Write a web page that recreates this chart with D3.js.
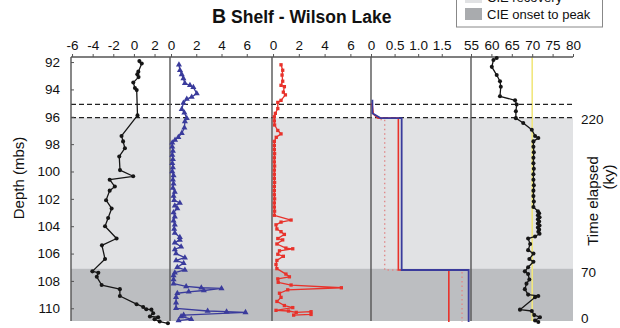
<!DOCTYPE html>
<html>
<head>
<meta charset="utf-8">
<script src="https://cdn.jsdelivr.net/npm/d3@7"></script>
<style>
  body { margin: 0; background: #fff; }
  svg { display: block; font-family: "Liberation Sans", Arial, Helvetica, sans-serif; }
</style>
</head>
<body>
<svg id="chart" width="620" height="328"></svg>
<script>
// ---- depth axis and horizons (m below surface) ----
const depthTicks = [92, 94, 96, 98, 100, 102, 104, 106, 108, 110];
const depthDomain = [91.63, 110.93];
const dashedDepths = [95.1, 96.06];
const recoveryZone = [96.06, 107.1];
const onsetZone = [107.1, 110.93];

// elapsed-time tie points (ky) and their depths
const timeLabels = ["220", "70", "0"];
const timeDepths = [96.06, 107.1, 110.93];

// ---- top-axis tick values per panel ----
const ticks1 = [-6, -4, -2, 0, 2];
const ticks2 = [0, 2, 4, 6];
const ticks3 = [0, 2, 4, 6];
const ticks4 = [0, 0.5, 1.0, 1.5];
const ticks5 = [55, 60, 65, 70, 75, 80];

// ---- panel 1: black circles ----
const p1Depth = [91.93, 92.1, 92.7, 92.9, 93.1, 93.5, 93.9, 94.05, 95.9, 97.4, 97.8, 98.3, 98.9, 99.9,
  100.35, 100.6, 101.1, 101.4, 102.1, 102.7, 103.4, 104.0, 104.9, 105.4, 106.4, 107.3, 107.4, 107.7,
  108.3, 108.6, 109.1, 109.7, 109.9, 110.07, 110.1, 110.36, 110.6, 110.65, 110.8, 110.97, 111.1];
const p1Value = [0.53, 0.76, 0.43, 0.33, 0.45, -0.06, 0.1, 0.27, 0.35, -1.2, -1.05, -0.87, -1.42, -1.35,
  -0.07, -2.35, -1.85, -2.35, -2.7, -2.16, -2.5, -2.8, -1.68, -3.1, -2.8, -4.03, -3.45, -3.6,
  -3.13, -1.36, -1.36, 0.26, 0.9, 1.2, 1.7, 1.87, 1.55, 2.35, 2.0, 2.5, 3.3];

// ---- panel 2: blue triangles ----
const p2Depth = [92.2, 92.6, 92.9, 93.2, 93.55, 93.7, 93.85, 94.3, 94.55, 94.7, 95.0, 95.45, 95.7, 96.1,
  96.35, 96.8, 97.2, 97.5, 97.7, 97.9, 98.2, 98.5, 98.8, 99.1, 99.4, 99.7, 100.0, 100.3, 100.6, 100.9,
  101.2, 101.5, 101.8, 102.1, 102.3, 102.5, 102.7, 103.0, 103.3, 103.6, 103.9, 104.2, 104.5, 104.8,
  105.0, 105.2, 105.5, 105.7, 106.0, 106.3, 106.5, 106.7, 107.0, 107.2, 107.4, 107.6, 107.9, 108.2,
  108.4, 108.5, 108.55, 108.7, 108.8, 108.9, 109.2, 109.6, 110.0, 110.2, 110.25, 110.3, 110.5, 110.6,
  110.8, 110.9];
const p2Value = [0.63, 0.71, 0.85, 0.98, 1.1, 1.5, 1.77, 2.04, 1.64, 1.25, 0.98, 0.85, 1.06, 1.25,
  1.1, 1.06, 0.85, 0.58, 0.32, 0.1, 0.1, 0.15, 0.1, 0.15, 0.1, 0.15, 0.1, 0.2, 0.15, 0.2,
  0.15, 0.3, 0.2, 0.25, 0.7, 0.3, 0.5, 0.2, 0.3, 0.2, 0.3, 0.25, 0.3, 0.7,
  0.7, 0.3, 0.8, 0.3, 0.4, 1.1, 0.4, 1.0, 0.5, 1.1, 0.3, 0.2, 0.2, 0.2,
  1.2, 2.4, 4.0, 2.6, 1.4, 0.5, 0.4, 0.4, 0.4, 2.9, 4.4, 5.9, 1.0, 0.8,
  1.6, 0.6];

// ---- panel 3: red squares ----
const p3Depth = [92.2, 92.6, 92.95, 93.4, 93.7, 93.8, 94.2, 94.4, 94.8, 94.95, 95.4, 95.75, 96.0, 96.3,
  96.6, 97.0, 97.25, 97.5, 97.8, 98.1, 98.4, 98.7, 99.0, 99.3, 99.6, 99.9, 100.2, 100.5, 100.8, 101.1,
  101.4, 101.7, 102.0, 102.3, 102.6, 102.9, 103.2, 103.55, 103.7, 103.9, 104.2, 104.4, 104.6, 104.9,
  105.0, 105.3, 105.6, 105.65, 105.8, 106.05, 106.2, 106.5, 106.8, 107.1, 107.5, 107.7, 107.85, 108.1,
  108.3, 108.5, 108.65, 108.9, 109.2, 109.5, 109.8, 109.95, 110.15, 110.2, 110.3, 110.25, 110.45, 110.5];
const p3Value = [0.62, 0.75, 0.7, 0.75, 0.62, 0.88, 0.8, 0.96, 0.62, 0.37, 0.37, 0.18, 0.1, 0.1,
  0.12, 0.37, 0.62, 0.25, 0.1, 0.1, 0.1, 0.12, 0.1, 0.1, 0.12, 0.1, 0.1, 0.1, 0.12, 0.1,
  0.1, 0.1, 0.12, 0.1, 0.1, 0.12, 0.1, 1.4, 0.62, 0.23, 0.3, 0.62, 0.88, 0.37,
  0.75, 0.3, 1.0, 1.53, 0.5, 0.37, 0.8, 0.3, 0.23, 0.3, 1.0, 1.27, 0.37, 0.4,
  1.4, 5.3, 1.14, 0.5, 0.62, 0.3, 0.88, 1.53, 0.23, 1.2, 1.8, 2.95, 2.95, 1.6];

// ---- panel 4: step curves ----
const p4BlueDepth = [94.75, 95.75, 96.1, 96.1, 107.2, 107.2, 111.0];
const p4BlueValue = [0.03, 0.03, 0.2, 0.65, 0.65, 2.07, 2.07];
const p4RedDepth = [95.0, 95.8, 96.1, 96.1, 107.2, 107.2, 111.0];
const p4RedValue = [0.02, 0.05, 0.15, 0.58, 0.58, 1.65, 1.65];
const p4DotDepth = [96.2, 96.2, 107.2, 107.2, 111.0];
const p4DotValue = [0.2, 0.29, 0.29, 1.93, 1.93];

// ---- panel 5: black circles and reference value ----
const p5Depth = [91.7, 91.85, 92.35, 92.95, 93.4, 93.8, 94.5, 94.8, 95.1, 95.6, 96.1, 96.45, 96.95, 97.4,
  97.55, 97.8, 98.2, 98.6, 99.0, 99.4, 99.8, 100.2, 100.6, 101.0, 101.4, 101.8, 102.2, 102.6,
  102.9, 103.05, 103.2, 103.35, 103.5, 103.65, 103.8, 103.95, 104.1, 104.25, 104.4, 104.55,
  104.75, 104.9, 105.3, 105.75, 106.0, 106.4, 106.6, 107.0, 107.3, 107.5, 107.9, 108.2, 108.6,
  109.0, 109.1, 109.2, 110.1, 110.2, 110.5, 110.65, 110.9, 111.0];
const p5Value = [61.3, 60.5, 60.1, 61.3, 62.1, 62.3, 62.1, 65.8, 66.2, 66.0, 66.0, 67.8, 69.9, 70.7,
  71.5, 70.3, 70.3, 70.4, 70.3, 70.3, 70.4, 70.3, 70.3, 70.4, 70.3, 70.3, 70.4, 70.3,
  71.4, 71.7, 71.4, 71.8, 71.4, 71.7, 71.4, 71.8, 71.4, 71.7, 71.5, 71.8,
  70.7, 69.0, 69.5, 69.0, 70.3, 69.3, 70.3, 69.0, 68.2, 69.0, 69.3, 68.6, 68.2,
  69.0, 71.5, 70.7, 67.0, 69.9, 70.5, 71.9, 70.7, 71.5];
const p5Reference = [70];

// ---- legend ----
const legendLabels = ["CIE recovery", "CIE onset to peak"];

// ================= drawing =================
const svg = d3.select("#chart");
const plotTop = 57, plotBottom = 321;
const edges = [71, 170, 272, 371, 471, 573];
const lightGrey = "#e1e2e4", darkGrey = "#bcbec1";
const frameColor = "#555";

const y = d3.scaleLinear().domain(depthDomain).range([plotTop, plotBottom]);

const x1 = d3.scaleLinear().domain([-6.1, 3.5]).range([edges[0], edges[1]]);
const x2 = d3.scaleLinear().domain([-0.08, 8.0]).range([edges[1], edges[2]]);
const x3 = d3.scaleLinear().domain([-0.08, 7.6]).range([edges[2], edges[3]]);
const x4 = d3.scaleLinear().domain([0, 2.12]).range([edges[3], edges[4]]);
const x5 = d3.scaleLinear().domain([55, 80]).range([edges[4], edges[5]]);

const zip = (ds, vs) => ds.map((d, i) => ({ d, v: vs[i] }));

// shaded CIE intervals
svg.append("rect")
  .attr("x", edges[0]).attr("width", edges[5] - edges[0])
  .attr("y", y(recoveryZone[0])).attr("height", y(recoveryZone[1]) - y(recoveryZone[0]))
  .attr("fill", lightGrey);
svg.append("rect")
  .attr("x", edges[0]).attr("width", edges[5] - edges[0])
  .attr("y", y(onsetZone[0])).attr("height", y(onsetZone[1]) - y(onsetZone[0]))
  .attr("fill", darkGrey);

// yellow reference line in the last panel
svg.append("line")
  .attr("x1", x5(p5Reference[0])).attr("x2", x5(p5Reference[0]))
  .attr("y1", plotTop).attr("y2", plotBottom)
  .attr("stroke", "#f1e77e").attr("stroke-width", 1.6);

// dashed horizons
svg.selectAll("line.horizon").data(dashedDepths).join("line")
  .attr("class", "horizon")
  .attr("x1", edges[0]).attr("x2", edges[5])
  .attr("y1", d => y(d)).attr("y2", d => y(d))
  .attr("stroke", "#222").attr("stroke-width", 1.2)
  .attr("stroke-dasharray", "5,3");

// panel dividers
svg.selectAll("line.divider").data(edges.slice(0, 5)).join("line")
  .attr("class", "divider")
  .attr("x1", d => d).attr("x2", d => d)
  .attr("y1", plotTop).attr("y2", plotBottom)
  .attr("stroke", frameColor).attr("stroke-width", 1.4);

// top frame line
svg.append("line")
  .attr("x1", edges[0]).attr("x2", edges[5])
  .attr("y1", plotTop).attr("y2", plotTop)
  .attr("stroke", frameColor).attr("stroke-width", 1.4);

// top axes
function topAxis(scale, values, fmt) {
  const g = svg.append("g").attr("transform", `translate(0,${plotTop})`)
    .call(d3.axisTop(scale).tickValues(values).tickSize(3).tickPadding(4).tickFormat(fmt));
  g.select(".domain").remove();
  g.selectAll(".tick line").attr("stroke", frameColor);
  g.selectAll(".tick text").attr("fill", "#111").style("font-size", "13.5px")
    .style("font-family", '"Liberation Sans", Arial, sans-serif');
  return g;
}
const plain = d => String(d);
topAxis(x1, ticks1, plain);
topAxis(x2, ticks2, plain);
topAxis(x3, ticks3, plain);
topAxis(x4, ticks4, d => d === 0 ? "0" : d.toFixed(1));
topAxis(x5, ticks5, plain);

// depth axis
const yAxis = svg.append("g").attr("transform", `translate(${edges[0]},0)`)
  .call(d3.axisLeft(y).tickValues(depthTicks).tickSize(-3).tickPadding(11));
yAxis.select(".domain").remove();
yAxis.selectAll(".tick line").attr("stroke", frameColor);
yAxis.selectAll(".tick text").attr("fill", "#111").style("font-size", "13.5px")
  .style("font-family", '"Liberation Sans", Arial, sans-serif');

svg.append("text")
  .attr("transform", `translate(19,178) rotate(-90)`)
  .attr("text-anchor", "middle").attr("dy", "0.35em")
  .style("font-size", "15px").attr("fill", "#111")
  .text("Depth (mbs)");

// elapsed-time labels on the right (nudged so the last one stays inside)
const timeNudge = [1.5, 4, -2.5];
svg.selectAll("text.time").data(timeLabels).join("text")
  .attr("class", "time")
  .attr("x", edges[5] + 8)
  .attr("y", (d, i) => y(timeDepths[i]) + timeNudge[i])
  .attr("dy", "0.35em")
  .style("font-size", "13.5px").attr("fill", "#111")
  .text(d => d);
svg.append("text")
  .attr("transform", `translate(593,201) rotate(-90)`)
  .attr("text-anchor", "middle").attr("dy", "0.35em")
  .style("font-size", "15px").attr("fill", "#111")
  .text("Time elapsed");
svg.append("text")
  .attr("transform", `translate(609,177) rotate(-90)`)
  .attr("text-anchor", "middle").attr("dy", "0.35em")
  .style("font-size", "15px").attr("fill", "#111")
  .text("(ky)");

// data series
function series(scale, pts, color, symbolType, symbolSize) {
  const line = d3.line().x(p => scale(p.v)).y(p => y(p.d));
  svg.append("path").datum(pts)
    .attr("d", line).attr("fill", "none")
    .attr("stroke", color).attr("stroke-width", 1.3).attr("stroke-linejoin", "round");
  if (symbolType) {
    const sym = d3.symbol().type(symbolType).size(symbolSize);
    svg.append("g").selectAll("path").data(pts).join("path")
      .attr("d", sym)
      .attr("transform", p => `translate(${scale(p.v)},${y(p.d)})`)
      .attr("fill", color);
  }
}
const black = "#161616", blue = "#3a3b9c", red = "#e8322b";

series(x1, zip(p1Depth, p1Value), black, d3.symbolCircle, 13);
series(x2, zip(p2Depth, p2Value), blue, d3.symbolTriangle, 16);
series(x3, zip(p3Depth, p3Value), red, d3.symbolSquare, 11);

// panel 4 step curves
const step = d3.line().x(p => x4(p.v)).y(p => y(p.d));
svg.append("path").datum(zip(p4DotDepth, p4DotValue))
  .attr("d", step).attr("fill", "none")
  .attr("stroke", "#e08a8a").attr("stroke-width", 1.4).attr("stroke-dasharray", "1.5,3");
svg.append("path").datum(zip(p4RedDepth, p4RedValue))
  .attr("d", step).attr("fill", "none").attr("stroke", red).attr("stroke-width", 1.6);
svg.append("path").datum(zip(p4BlueDepth, p4BlueValue))
  .attr("d", step).attr("fill", "none").attr("stroke", blue).attr("stroke-width", 1.8);

series(x5, zip(p5Depth, p5Value), black, d3.symbolCircle, 13);

// title
const title = svg.append("text").attr("x", 212).attr("y", 22.5)
  .attr("fill", "#111").style("font-weight", "bold");
title.append("tspan").style("font-size", "19.5px").text("B");
title.append("tspan").attr("dx", 5).style("font-size", "17.5px").text("Shelf - Wilson Lake");

// legend (box runs off the top edge)
const lg = svg.append("g");
lg.append("rect").attr("x", 456.5).attr("y", -14).attr("width", 146).attr("height", 41)
  .attr("fill", "#fff").attr("stroke", "#888").attr("stroke-width", 1);
const swatchColors = [lightGrey, "#a9abae"];
lg.selectAll("rect.sw").data(legendLabels).join("rect")
  .attr("class", "sw")
  .attr("x", 465).attr("y", (d, i) => -9 + i * 17)
  .attr("width", 17).attr("height", 12)
  .attr("fill", (d, i) => swatchColors[i]);
lg.selectAll("text").data(legendLabels).join("text")
  .attr("x", 487).attr("y", (d, i) => 2 + i * 17)
  .style("font-size", "13px").attr("fill", "#111")
  .text(d => d);
</script>
</body>
</html>
